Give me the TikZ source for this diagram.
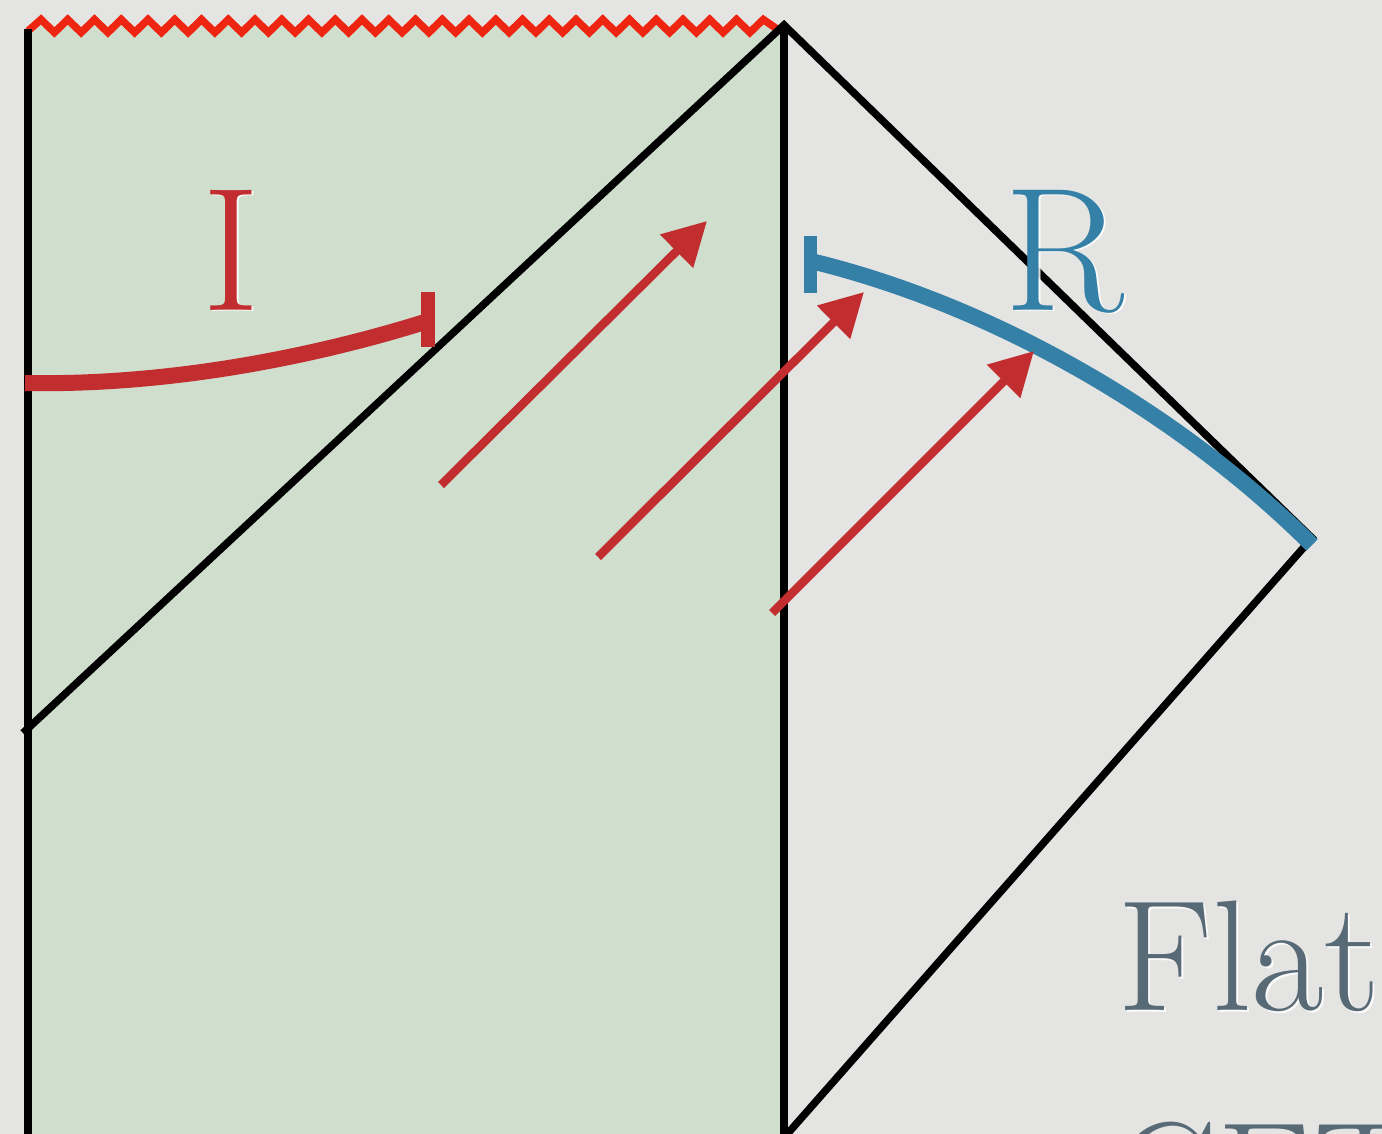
\documentclass[tikz,border=0pt]{standalone}
\usepackage{fontspec}
\usetikzlibrary{arrows.meta}
\definecolor{bg}{HTML}{E4E4E2}
\definecolor{grn}{HTML}{D0DECE}
\definecolor{zz}{HTML}{EE2510}
\definecolor{rd}{HTML}{C22E30}
\definecolor{bl}{HTML}{3580A6}
\definecolor{tx}{HTML}{586A76}
\begin{document}
\begin{tikzpicture}[x=1pt,y=-1pt,
  blk/.style={draw=black,line width=7.5pt},
  ray/.style={draw=rd,line width=8.5pt,-{Triangle[length=43pt,width=45pt]}},
  lbl/.style={inner sep=0pt,anchor=base},
  shadowtxt/.style={text=white,opacity=0.85}]
\fill[bg] (0,0) rectangle (1382,1134);
\useasboundingbox (0,0) rectangle (1382,1134);
% coordinates
\coordinate (TL) at (28,29);
\coordinate (BL) at (28,1140);
\coordinate (apex) at (784,25);
\coordinate (BM) at (784,1140);
\coordinate (kink) at (23,733);
\coordinate (Rc) at (1312,538);
\coordinate (Rb) at (782,1140);
\coordinate (zzs) at (28,31);
\coordinate (zze) at (777,29);
% green region with zigzag top
\fill[grn] (28,1140) -- (zzs)
  \foreach \k in {0,...,26} { -- ({41+26.75*\k},19.5) -- ({54.4+26.75*\k},32.5) }
  -- (763.3,19.5) -- (zze) -- (784,29) -- (784,1140) -- cycle;
\draw[zz,line width=7.5pt,line join=miter] (zzs)
  \foreach \k in {0,...,26} { -- ({41+26.75*\k},19.5) -- ({54.4+26.75*\k},32.5) }
  -- (763.3,19.5) -- (zze);
% black lines
\draw[blk] (TL) -- (BL);
\draw[blk] (apex) -- (BM);
\draw[blk,line join=miter] (kink) -- (apex) -- (Rc) -- (Rb);
% red I curve with bar
\coordinate (Is) at (25,383);
\coordinate (Ie) at (428,321);
\coordinate (Ibt) at (428,292);
\coordinate (Ibb) at (428,347);
\draw[rd,line width=16pt] (Is) .. controls (180,386) and (330,352) .. (Ie);
\draw[rd,line width=14pt] (Ibt) -- (Ibb);
% blue R curve with bar
\coordinate (Bs) at (815,262);
\coordinate (Be) at (1312,545);
\coordinate (Bbt) at (810.5,236);
\coordinate (Bbb) at (810.5,293);
\draw[bl,line width=16pt] (Bs) .. controls (997,307) and (1182,415) .. (Be);
\draw[bl,line width=13pt] (Bbt) -- (Bbb);
% red arrows
\coordinate (a1s) at (441,485); \coordinate (a1e) at (707,221);
\coordinate (a2s) at (598,557); \coordinate (a2e) at (864,292);
\coordinate (a3s) at (772,613); \coordinate (a3e) at (1034,351);
\draw[ray] (a1s) -- (a1e);
\draw[ray] (a2s) -- (a2e);
\draw[ray] (a3s) -- (a3e);
% labels
\node[lbl,shadowtxt,font=\fontsize{176}{176}\selectfont] at (233,312) {I};
\node[lbl,text=rd,font=\fontsize{176}{176}\selectfont] (labI) at (231,310) {I};
\node[lbl,shadowtxt,font=\fontsize{176}{176}\selectfont] at (1066,312) {R};
\node[lbl,text=bl,font=\fontsize{176}{176}\selectfont] (labR) at (1064,310) {R};
\node[inner sep=0pt,anchor=base west,shadowtxt,font=\fontsize{158}{158}\selectfont] at (1119,1012) {Flat};
\node[inner sep=0pt,anchor=base west,text=tx,font=\fontsize{158}{158}\selectfont] (flat) at (1117,1010) {Flat};
\node[inner sep=0pt,anchor=base west,text=tx,font=\fontsize{158}{158}\selectfont] (cft) at (1112,1232) {CFT};
\end{tikzpicture}
\end{document}
